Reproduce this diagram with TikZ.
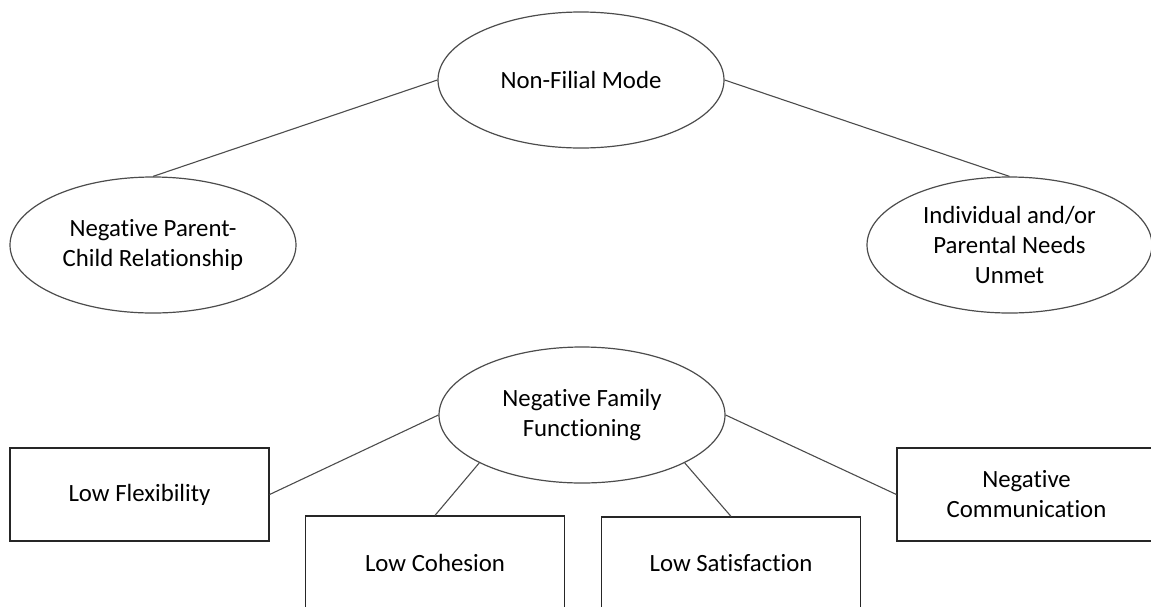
\documentclass[tikz,border=0pt]{standalone}
\usepackage{fontspec}
\setmainfont{Carlito}[Ligatures={NoCommon}]
\usetikzlibrary{shapes.geometric}
\begin{document}
\begin{tikzpicture}[x=0.5pt,y=-0.5pt,
  lbl/.style={font=\fontsize{12.4}{15}\selectfont},
  oval/.style={ellipse,draw=black!70,line width=0.6pt,minimum width=143pt,
    minimum height=68pt,inner sep=0pt,align=center,lbl},
  box/.style={rectangle,draw=black!85,line width=0.6pt,minimum width=129.5pt,
    minimum height=46.5pt,inner sep=0pt,align=center,lbl},
  link/.style={draw=black!70,line width=0.55pt}]
\useasboundingbox (0,0) rectangle (1151,606);
\clip (0,0) rectangle (1151,606);

% upper tree
\node[oval] (nfm) at (581,80) {Non-Filial Mode};
\node[oval] (npc) at (153,245) {Negative Parent-\\Child Relationship};
\node[oval,minimum width=142.5pt] (ind) at (1009.5,245) {Individual and/or\\Parental Needs\\Unmet};

% lower tree
\node[oval] (nff) at (582,415) {Negative Family\\Functioning};
\node[box] (lflex) at (139.5,494.5) {Low Flexibility};
\node[box] (lcoh) at (435,562.5) {Low Cohesion};
\node[box] (lsat) at (731,563.5) {Low Satisfaction};
\node[box] (ncom) at (1026.5,494.5) {Negative\\Communication};

% connectors
\draw[link] (nfm.west) -- (npc.north);
\draw[link] (nfm.east) -- (ind.north);
\draw[link] (nff.west) -- (lflex.east);
\draw[link] (nff.205) -- (lcoh.north);
\draw[link] (nff.335) -- (lsat.north);
\draw[link] (nff.east) -- (ncom.west);
\end{tikzpicture}
\end{document}
